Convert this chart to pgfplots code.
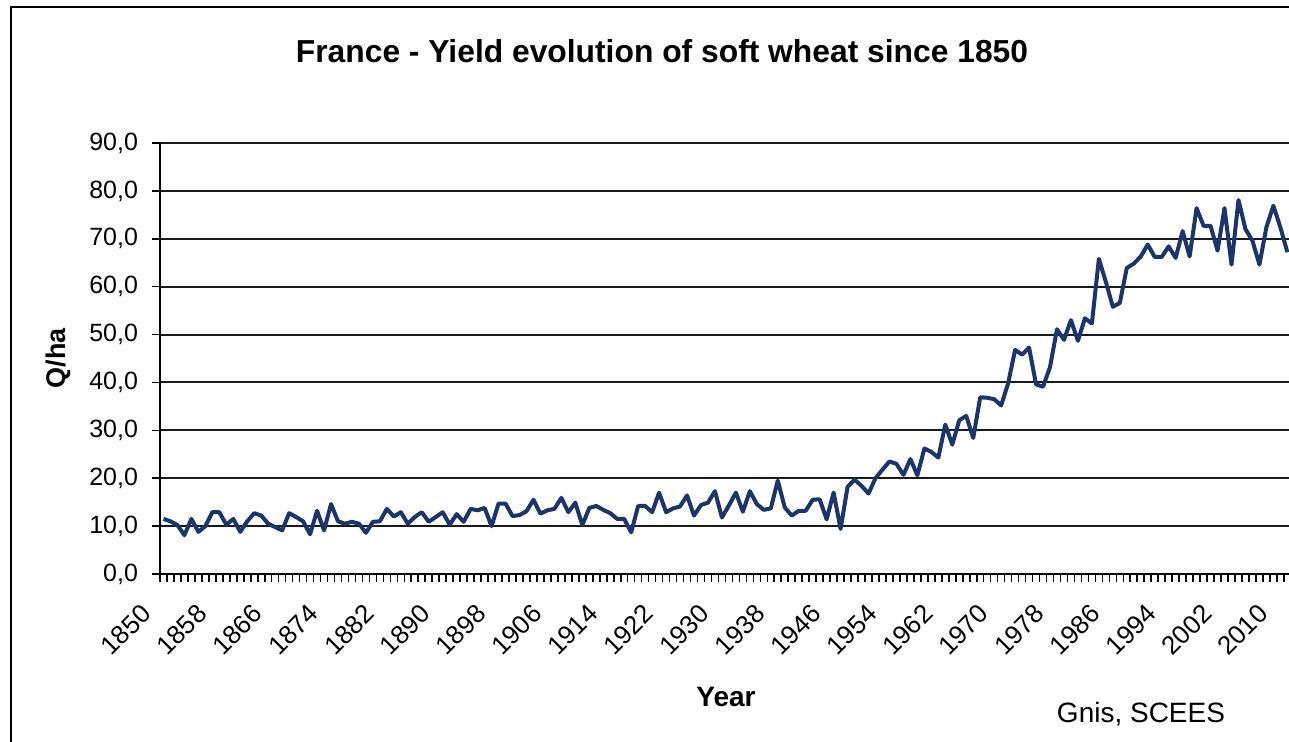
\documentclass[border=0pt]{standalone}
\usepackage{pgfplots}
\pgfplotsset{compat=1.18}
\usepackage{pgfplotstable}
\usepackage{fontspec}
\setmainfont{Liberation Sans}
\definecolor{wheat}{RGB}{28,52,108}
\pgfplotstableread{
year yield
1850 11.5
1851 11.0
1852 10.2
1853 8.1
1854 11.5
1855 8.8
1856 10.0
1857 12.9
1858 12.9
1859 10.3
1860 11.5
1861 8.8
1862 11.0
1863 12.7
1864 12.2
1865 10.5
1866 9.8
1867 9.1
1868 12.7
1869 11.9
1870 11.0
1871 8.3
1872 13.2
1873 9.1
1874 14.6
1875 11.0
1876 10.5
1877 10.9
1878 10.5
1879 8.6
1880 10.9
1881 11.0
1882 13.6
1883 12.0
1884 12.9
1885 10.5
1886 11.9
1887 12.9
1888 10.9
1889 11.9
1890 12.9
1891 10.3
1892 12.5
1893 10.9
1894 13.6
1895 13.3
1896 13.8
1897 10.0
1898 14.7
1899 14.7
1900 12.1
1901 12.3
1902 13.1
1903 15.5
1904 12.6
1905 13.3
1906 13.6
1907 15.9
1908 12.9
1909 14.9
1910 10.2
1911 13.8
1912 14.2
1913 13.4
1914 12.7
1915 11.5
1916 11.5
1917 8.7
1918 14.2
1919 14.2
1920 12.9
1921 17.0
1922 12.9
1923 13.7
1924 14.1
1925 16.4
1926 12.2
1927 14.4
1928 14.9
1929 17.3
1930 11.8
1931 14.3
1932 17.0
1933 13.0
1934 17.3
1935 14.6
1936 13.4
1937 13.7
1938 19.5
1939 13.9
1940 12.2
1941 13.2
1942 13.2
1943 15.5
1944 15.6
1945 11.4
1946 17.0
1947 9.4
1948 18.2
1949 19.7
1950 18.4
1951 16.8
1952 20.0
1953 21.8
1954 23.5
1955 23.0
1956 20.7
1957 24.0
1958 20.6
1959 26.2
1960 25.5
1961 24.3
1962 31.2
1963 27.0
1964 32.1
1965 33.0
1966 28.4
1967 36.9
1968 36.8
1969 36.5
1970 35.2
1971 39.8
1972 46.8
1973 45.8
1974 47.3
1975 39.6
1976 39.1
1977 43.2
1978 51.1
1979 48.9
1980 53.0
1981 48.7
1982 53.4
1983 52.3
1984 65.8
1985 61.0
1986 55.8
1987 56.6
1988 63.9
1989 64.8
1990 66.3
1991 68.8
1992 66.2
1993 66.2
1994 68.4
1995 66.0
1996 71.6
1997 66.3
1998 76.4
1999 72.7
2000 72.7
2001 67.5
2002 76.4
2003 64.6
2004 78.1
2005 72.0
2006 69.6
2007 64.6
2008 72.4
2009 76.9
2010 72.4
2011 67.2
}\wheatdata
\begin{document}
\begin{tikzpicture}
\path[use as bounding box] (0,0) rectangle (644.5pt,371pt);
\draw[line width=1pt] (5.5pt,-2pt) -- (5.5pt,367.5pt) -- (650pt,367.5pt);
\node[anchor=base, font=\bfseries\fontsize{15.9}{18}\selectfont] at (331pt,339.5pt) {France - Yield evolution of soft wheat since 1850};
\node[anchor=base, font=\fontsize{14}{16}\selectfont] at (570.5pt,9.5pt) {Gnis, SCEES};
\begin{axis}[
  at={(80pt,84pt)}, anchor=south west,
  scale only axis, width=568.9pt, height=215.5pt,
  xmin=1849.5, xmax=2012.5, ymin=0, ymax=90,
  axis lines*=left,
  axis line style={black, line width=1pt},
  ytick={0,10,...,90},
  ymajorgrids, grid style={black!90, line width=1pt},
  tick align=outside, major tick length=4pt, minor tick length=4pt,
  tick style={black, line width=0.8pt},
  xtick={1850,1858,...,2010},
  minor xtick={1849.5,1850.5,...,2012.5},
  xticklabel style={xshift=-8.5pt, yshift=-13.5pt, rotate=45, anchor=east, inner sep=0pt, font=\fontsize{13}{15}\selectfont, /pgf/number format/1000 sep={}},
  xtick style={black, line width=0.8pt},
  major x tick style={draw=none},
  yticklabel style={xshift=-3.5pt, font=\fontsize{12.5}{14}\selectfont, /pgf/number format/.cd, fixed, fixed zerofill, precision=1, use comma},
  /pgf/number format/assume math mode=true,
  xlabel={Year}, ylabel={Q/ha},
  every axis x label/.style={at={(axis description cs:0.4975,0)}, anchor=center, yshift=-61.5pt, font=\bfseries\fontsize{14}{16}\selectfont},
  every axis y label/.style={at={(axis description cs:-0.0897,0.5)}, rotate=90, anchor=center, font=\bfseries\fontsize{13.5}{16}\selectfont},
  clip=true,
]
\addplot[wheat, line width=2pt, line join=round, mark=none] table[x=year, y=yield] {\wheatdata};
\end{axis}
\end{tikzpicture}
\end{document}
